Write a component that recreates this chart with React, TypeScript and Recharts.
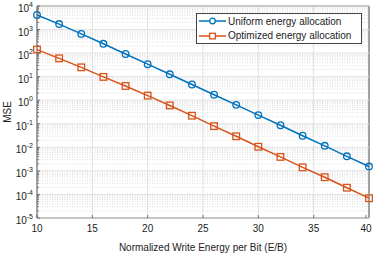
import React from 'react';
import { LineChart, Line, XAxis, YAxis, CartesianGrid, ReferenceLine, ReferenceArea, Legend } from 'recharts';

const energy = [10, 12, 14, 16, 18, 20, 22, 24, 26, 28, 30, 32, 34, 36, 38, 40];
const uniformMse = [4160, 1710, 653, 249, 91.8, 33.9, 12.6, 4.64, 1.71, 0.637, 0.234, 0.0865, 0.0311, 0.0116, 0.00416, 0.00153];
const optimizedMse = [141, 60, 24.9, 9.75, 4.02, 1.57, 0.6, 0.221, 0.0794, 0.0295, 0.0106, 0.00392, 0.00141, 5.37e-4, 1.93e-4, 6.93e-5];

const xTicks = [10, 15, 20, 25, 30, 35, 40];
const yTicks = [1e-5, 1e-4, 1e-3, 1e-2, 1e-1, 1, 10, 100, 1e3, 1e4];
const minorY = yTicks.slice(0, -1).flatMap(d => [2, 3, 4, 5, 6, 7, 8, 9].map(m => m * d));
const allY = [...yTicks, ...minorY].sort((a, b) => a - b);

const BLUE = '#0072BD';
const ORANGE = '#D95319';
const FONT = '"Liberation Sans", Arial, sans-serif';
const AX = '#555';

const data = energy.map((e, i) => ({ e, uniform: uniformMse[i], optimized: optimizedMse[i] }));

const isMajor = (v: number) => Math.abs(Math.log10(v) - Math.round(Math.log10(v))) < 1e-6;

// left axis: labels for decades, inward tick marks for all
const YTick = (p: any) => {
  const v = p.payload.value;
  const major = isMajor(v);
  const ax = p.x + 3;
  return (
    <g>
      <line x1={ax} x2={ax + (major ? 3 : 2)} y1={p.y} y2={p.y} stroke={AX} strokeWidth={0.8} />
      {major && (
        <text x={p.x - 1} y={p.y + 6} textAnchor="end" fontSize={10} fill="#222" fontFamily={FONT}>
          10<tspan dy={-5} fontSize={7}>{Math.round(Math.log10(v))}</tspan>
        </text>
      )}
    </g>
  );
};

const RTick = (p: any) => {
  const major = isMajor(p.payload.value);
  return <line x1={p.x} x2={p.x - (major ? 3 : 2)} y1={p.y} y2={p.y} stroke={AX} strokeWidth={0.8} />;
};

const XTick = (p: any) => (
  <g>
    <line x1={p.x} x2={p.x} y1={p.y} y2={p.y - 3} stroke={AX} strokeWidth={0.8} />
    <text x={p.x} y={p.y + 14} textAnchor="middle" fontSize={10} fill="#222" fontFamily={FONT}>
      {p.payload.value}
    </text>
  </g>
);

const TopTick = (p: any) => <line x1={p.x} x2={p.x} y1={p.y} y2={p.y + 3} stroke={AX} strokeWidth={0.8} />;

const Circle = (p: any) => (
  <circle key={p.index} cx={p.cx} cy={p.cy} r={3.3} fill="none" stroke={BLUE} strokeWidth={1.3} />
);
const Square = (p: any) => (
  <rect key={p.index} x={p.cx - 3.3} y={p.cy - 3.3} width={6.6} height={6.6} fill="none" stroke={ORANGE} strokeWidth={1.3} />
);

const LegendBox = () => {
  const rows = [
    { name: 'Uniform energy allocation', color: BLUE, sq: false },
    { name: 'Optimized energy allocation', color: ORANGE, sq: true },
  ];
  return (
    <div style={{ width: 164, height: 29, border: '1px solid #444', background: '#fff', fontFamily: FONT, fontSize: 10, color: '#222' }}>
      {rows.map(r => (
        <div key={r.name} style={{ display: 'flex', alignItems: 'center', height: 14.5 }}>
          <svg width={31} height={12} style={{ flex: 'none' }}>
            <line x1={2} x2={29} y1={6} y2={6} stroke={r.color} strokeWidth={1.5} />
            {r.sq ? (
              <rect x={12.7} y={3.3} width={5.6} height={5.6} fill="#fff" stroke={r.color} strokeWidth={1.3} />
            ) : (
              <circle cx={15.5} cy={6} r={2.8} fill="#fff" stroke={r.color} strokeWidth={1.3} />
            )}
          </svg>
          <span>{r.name}</span>
        </div>
      ))}
    </div>
  );
};

export default function App() {
  return (
    <div style={{ position: 'absolute', left: 0, top: 0, background: '#fff' }}>
      <LineChart width={374} height={280} data={data} margin={{ top: 6, right: 5, left: 0, bottom: 0 }}>
        {minorY.map(v => (
          <ReferenceLine key={v} y={v} stroke="#d6d6d6" strokeDasharray="1 1.5" strokeWidth={0.8} />
        ))}
        {yTicks.map(v => (
          <ReferenceLine key={'M' + v} y={v} stroke="#e2e2e2" />
        ))}
        <CartesianGrid stroke="#e2e2e2" horizontal={false} />
        <XAxis
          dataKey="e"
          type="number"
          domain={[10, 40]}
          ticks={xTicks}
          tick={<XTick />}
          tickLine={false}
          tickSize={0}
          tickMargin={0}
          axisLine={false}
          height={31}
          label={{ value: 'Normalized Write Energy per Bit (E/B)', position: 'insideBottom', offset: -2, fontSize: 10, fill: '#222', fontFamily: FONT }}
        />
        <XAxis
          xAxisId="top"
          orientation="top"
          type="number"
          domain={[10, 40]}
          ticks={xTicks}
          tick={<TopTick />}
          tickLine={false}
          tickSize={0}
          tickMargin={0}
          axisLine={false}
          height={0}
        />
        <YAxis
          scale="log"
          domain={[1e-5, 1e4]}
          allowDataOverflow
          ticks={allY}
          interval={0}
          tick={<YTick />}
          tickLine={false}
          tickSize={0}
          tickMargin={3}
          axisLine={false}
          width={37}
          label={({ viewBox }: any) => (
            <text
              transform={`translate(${viewBox.x + 11},${viewBox.y + viewBox.height / 2}) rotate(-90)`}
              textAnchor="middle"
              fontSize={10}
              fill="#222"
              fontFamily={FONT}
            >
              MSE
            </text>
          )}
        />
        <YAxis
          yAxisId="right"
          orientation="right"
          scale="log"
          domain={[1e-5, 1e4]}
          allowDataOverflow
          ticks={allY}
          interval={0}
          tick={<RTick />}
          tickLine={false}
          tickSize={0}
          tickMargin={0}
          axisLine={false}
          width={0}
        />
        <ReferenceArea x1={10} x2={40} y1={1e-5} y2={1e4} fill="none" stroke={AX} strokeWidth={1} ifOverflow="visible" />
        <Line dataKey="uniform" stroke={BLUE} strokeWidth={1.5} dot={<Circle />} isAnimationActive={false} />
        <Line dataKey="optimized" stroke={ORANGE} strokeWidth={1.5} dot={<Square />} isAnimationActive={false} />
        <Legend content={<LegendBox />} wrapperStyle={{ position: 'absolute', left: 196, top: 13, width: 166 }} />
      </LineChart>
    </div>
  );
}
